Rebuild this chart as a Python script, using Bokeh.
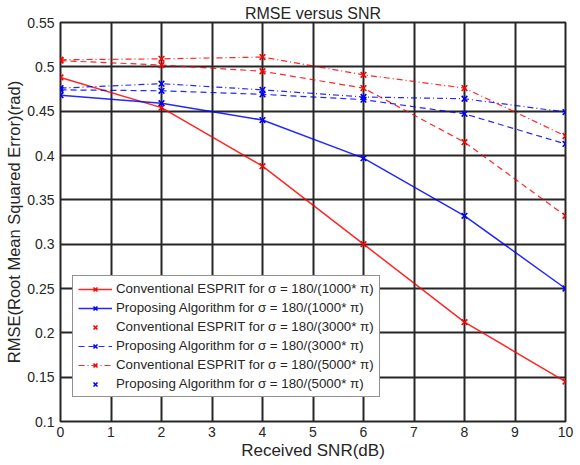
from bokeh.plotting import figure
from bokeh.models import Legend, LegendItem, FixedTicker, Range1d
from bokeh.embed import file_html
from bokeh.resources import INLINE

# ---- data ----
snr = [0, 2, 4, 6, 8, 10]
conv_1000 = [0.488, 0.454, 0.388, 0.300, 0.212, 0.145]
prop_1000 = [0.468, 0.459, 0.440, 0.397, 0.332, 0.250]
conv_3000 = [0.507, 0.502, 0.495, 0.476, 0.415, 0.332]
prop_3000 = [0.474, 0.473, 0.469, 0.463, 0.447, 0.413]
conv_5000 = [0.508, 0.509, 0.511, 0.491, 0.476, 0.422]
prop_5000 = [0.476, 0.481, 0.474, 0.466, 0.464, 0.449]

legend_labels = [
    "Conventional ESPRIT for σ = 180/(1000* π)",
    "Proposing Algorithm for σ = 180/(1000* π)",
    "Conventional ESPRIT for σ = 180/(3000* π)",
    "Proposing Algorithm for σ = 180/(3000* π)",
    "Conventional ESPRIT for σ = 180/(5000* π)",
    "Proposing Algorithm for σ = 180/(5000* π)",
]
x_ticks = [0, 1, 2, 3, 4, 5, 6, 7, 8, 9, 10]
y_ticks = [0.1, 0.15, 0.2, 0.25, 0.3, 0.35, 0.4, 0.45, 0.5, 0.55]
y_tick_labels = ["0.1", "0.15", "0.2", "0.25", "0.3", "0.35", "0.4", "0.45", "0.5", "0.55"]

FONT = "Liberation Sans"
DARK = "#262626"

p = figure(width=580, height=465, output_backend="svg", toolbar_location=None,
           x_range=Range1d(0, 10), y_range=Range1d(0.1, 0.55),
           min_border_left=60, min_border_right=15, min_border_top=22, min_border_bottom=44,
           title="RMSE versus SNR")
p.title.align = "center"
p.title.text_font = FONT
p.title.text_font_size = "16px"
p.title.text_font_style = "normal"
p.title.text_color = DARK
p.title.standoff = 1

p.background_fill_color = "white"
p.border_fill_color = "white"
p.outline_line_color = DARK
p.outline_line_width = 2

for ax in (p.xaxis[0], p.yaxis[0]):
    ax.axis_line_color = None
    ax.major_tick_line_color = None
    ax.minor_tick_line_color = None
    ax.major_tick_out = 0
    ax.major_tick_in = 0
    ax.minor_tick_out = 0
    ax.minor_tick_in = 0
    ax.major_label_text_font = FONT
    ax.major_label_text_font_size = "14px"
    ax.major_label_text_color = DARK
    ax.axis_label_text_font = FONT
    ax.axis_label_text_font_style = "normal"
    ax.axis_label_text_color = DARK

p.xaxis.axis_label_text_font_size = "17px"
p.yaxis.axis_label_text_font_size = "16.5px"
p.xaxis.ticker = FixedTicker(ticks=x_ticks)
p.yaxis.ticker = FixedTicker(ticks=y_ticks)
p.yaxis.major_label_overrides = {t: s for t, s in zip(y_ticks, y_tick_labels)}
p.xaxis.axis_label = "Received SNR(dB)"
p.yaxis.axis_label = "RMSE(Root Mean Squared Error)(rad)"
p.xaxis.major_label_standoff = 5
p.yaxis.major_label_standoff = 6
p.xaxis.axis_label_standoff = 1
p.yaxis.axis_label_standoff = 1

p.xgrid.ticker = FixedTicker(ticks=x_ticks)
p.ygrid.ticker = FixedTicker(ticks=y_ticks)
for g in (p.xgrid[0], p.ygrid[0]):
    g.grid_line_color = DARK
    g.grid_line_width = 2
    g.grid_line_alpha = 1.0

RED = "#ff0000"
BLUE = "#0000ff"
series = [
    (conv_1000, RED, "solid", 1.5),
    (prop_1000, BLUE, "solid", 1.5),
    (conv_3000, RED, "6 4", 1.2),
    (prop_3000, BLUE, "6 4", 1.2),
    (conv_5000, RED, "6 3 1 3", 1.2),
    (prop_5000, BLUE, "6 3 1 3", 1.2),
]
items = []
for i, (vals, col, dash, lw) in enumerate(series):
    ln = p.line(snr, vals, line_color=col, line_dash=dash, line_width=lw, line_alpha=0.85)
    sc = p.scatter(snr, vals, marker="x", size=8, line_color=col, line_width=1.6)
    if i in (2, 5):
        items.append(LegendItem(label=legend_labels[i], renderers=[sc]))
    else:
        items.append(LegendItem(label=legend_labels[i], renderers=[ln, sc]))

legend = Legend(items=items, location=(12, 24))
legend.label_text_font = FONT
legend.label_text_font_size = "13.3px"
legend.label_text_color = DARK
legend.glyph_width = 34
legend.glyph_height = 14
legend.label_height = 14
legend.label_standoff = 4
legend.spacing = 4
legend.padding = 5
legend.margin = 0
legend.border_line_color = DARK
legend.border_line_width = 1
legend.background_fill_color = "white"
legend.background_fill_alpha = 1.0
p.add_layout(legend, "center")

open("out.html", "w").write(file_html(p, INLINE))
